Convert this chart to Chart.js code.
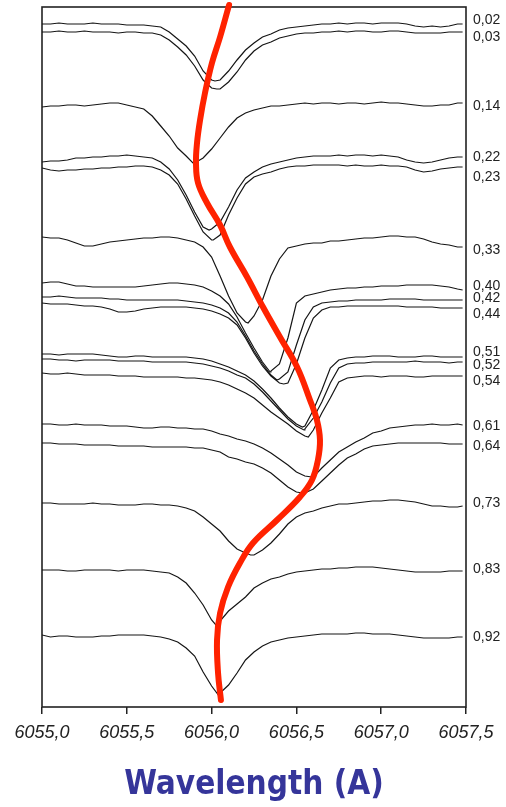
<!DOCTYPE html>
<html>
<head>
<meta charset="utf-8">
<script src="https://cdn.jsdelivr.net/npm/chart.js@4.4.1/dist/chart.umd.min.js"></script>
<style>
  body { margin: 0; background: #fff; }
  #wrap { width: 506px; height: 807px; position: relative; }
</style>
</head>
<body>
<div id="wrap"><canvas id="chart1"></canvas></div>
<script>
// sampled wavelengths (A), same for every spectrum
var wavelengths = [
  6055.00,6055.05,6055.10,6055.15,6055.20,6055.25,6055.30,6055.35,6055.40,6055.45,
  6055.50,6055.55,6055.60,6055.65,6055.70,6055.75,6055.80,6055.85,6055.90,6055.95,
  6056.00,6056.05,6056.10,6056.15,6056.20,6056.25,6056.30,6056.35,6056.40,6056.45,
  6056.50,6056.55,6056.60,6056.65,6056.70,6056.75,6056.80,6056.85,6056.90,6056.95,
  6057.00,6057.05,6057.10,6057.15,6057.20,6057.25,6057.30,6057.35,6057.40,6057.45,
  6057.48
];

// pulsation phase of each spectrum, top to bottom
var phases = ['0,02','0,03','0,14','0,22','0,23','0,33','0,40','0,42','0,44',
              '0,51','0,52','0,54','0,61','0,64','0,73','0,83','0,92'];

// flux, shifted so the spectra stack (arbitrary units)
var f002 = [683,683,684,683,683,683,684,683,683,683,682,682,682,681,680,675,668,661,651,636,627,627,636,647,657,664,670,673,677,679,680,681,682,683,683,684,683,684,684,683,684,684,684,683,681,680,681,680,681,683,683];
var f003 = [675,675,676,675,675,676,675,675,675,674,675,675,674,674,672,667,660,652,641,627,619,618,625,635,647,656,662,665,669,671,673,674,674,675,675,676,675,676,676,675,675,676,676,675,674,674,674,674,675,675,675];
var f014 = [600,601,601,602,602,601,602,603,604,604,602,600,598,591,581,571,559,551,544,549,558,569,580,589,594,597,599,601,601,602,603,604,603,604,604,603,604,604,603,604,605,604,604,603,602,601,601,602,602,604,604];
var f022 = [545,546,546,547,549,549,550,550,551,551,552,551,550,549,545,538,527,512,495,480,478,485,500,517,529,535,540,543,545,547,549,550,551,551,551,552,551,552,552,551,552,551,550,547,545,544,545,547,549,550,550];
var f023 = [539,537,536,537,537,538,538,539,539,540,540,541,541,540,537,532,523,508,491,475,467,472,492,509,523,530,533,535,538,540,541,541,542,542,542,542,541,542,541,541,542,541,541,540,537,535,536,538,539,540,540];
var f033 = [470,469,469,467,464,461,461,463,465,466,467,468,469,469,470,470,469,467,465,460,450,431,411,394,385,391,407,431,448,459,461,463,464,464,466,466,467,468,469,469,470,471,471,470,470,468,465,463,462,460,460];
var f040 = [424,425,425,423,421,421,420,420,420,420,420,420,421,422,423,424,424,423,422,420,416,411,403,390,374,359,345,336,343,369,404,411,413,415,417,418,419,419,420,420,421,421,421,422,422,422,422,421,420,418,417];
var f042 = [410,410,411,410,409,409,409,409,408,408,407,407,407,407,407,407,407,406,405,404,402,399,394,385,371,356,343,332,328,335,362,387,400,404,405,406,406,407,407,407,407,408,408,408,408,407,407,407,407,407,407];
var f044 = [404,403,403,403,402,401,401,400,398,395,395,396,398,399,400,400,400,400,399,398,396,393,389,382,369,354,341,331,324,324,343,369,389,397,400,400,401,401,401,401,401,401,401,400,400,400,400,399,399,399,399];
var f051 = [353,353,352,353,353,353,353,352,351,350,350,351,351,350,350,350,350,350,349,348,346,343,340,336,332,326,318,309,299,290,283,281,297,317,339,347,349,350,350,351,351,351,350,350,350,351,351,350,350,350,350];
var f052 = [348,348,347,347,346,347,347,347,347,346,346,346,346,345,345,345,345,345,344,343,341,339,336,332,329,323,315,306,297,288,281,278,289,305,324,339,343,344,344,345,345,345,345,345,346,345,345,345,344,345,345];
var f054 = [334,333,333,334,333,332,332,332,332,331,331,331,330,330,330,330,330,329,329,328,327,325,322,318,314,309,302,295,289,283,276,271,277,294,309,325,329,330,331,331,330,331,331,331,330,330,331,331,331,331,331];
var f061 = [283,283,282,282,283,282,282,282,281,281,281,280,279,279,280,280,279,279,278,278,276,273,271,268,266,263,259,254,248,242,235,231,230,239,247,255,260,265,269,274,276,279,280,281,282,282,283,282,282,283,282];
var f064 = [264,264,263,263,263,262,262,262,262,261,261,261,261,260,260,260,260,260,259,259,257,255,250,248,245,243,239,234,227,220,215,214,218,226,234,242,249,253,258,261,262,263,264,264,264,264,264,264,263,263,263];
var f073 = [204,204,203,203,203,203,204,203,203,202,202,202,203,203,202,202,201,199,196,190,183,176,166,158,154,152,157,164,173,183,190,194,196,199,201,203,203,204,205,206,206,207,207,206,205,203,201,201,200,200,201];
var f083 = [137,137,137,136,136,137,137,137,137,136,137,137,137,136,135,134,130,124,114,102,87,86,96,103,110,119,124,128,130,133,135,136,137,138,138,139,139,140,140,140,139,138,137,136,135,135,135,135,136,136,136];
var f092 = [72,70,71,71,70,70,70,71,71,72,72,72,72,71,70,68,65,59,51,35,21,14,22,34,47,55,61,65,67,69,70,71,72,73,73,73,73,74,74,73,73,73,72,71,70,69,69,69,69,70,70];

var spectra = [f002,f003,f014,f022,f023,f033,f040,f042,f044,f051,f052,f054,f061,f064,f073,f083,f092];

// line core of each spectrum: wavelength and flux
var lineCentre = [6056.02,6056.03,6055.89,6055.985,6056.01,6056.215,6056.345,6056.385,6056.425,
                  6056.535,6056.545,6056.57,6056.59,6056.535,6056.23,6056.025,6056.04];
var lineCore = [626,618,544,477,467,384,335,327,323,280,277,270,230,214,152,82,12];

// height of each phase label on the right axis
var phaseLabelAt = [687,670,601,550,530,457,421,409,393,355,342,326,281,261,204,138,70];

// hand drawn curve following the line cores
var curveWave = [6056.103,6056.050,6056.002,6055.961,6055.932,6055.914,6055.908,6055.920,6055.973,6056.050,
                 6056.108,6056.209,6056.303,6056.403,6056.504,6056.580,6056.621,6056.639,6056.627,6056.592,
                 6056.521,6056.386,6056.244,6056.167,6056.097,6056.050,6056.032,6056.038,6056.055];
var curveFlux = [702,670,644,614,587,564,544,524,504,482,
                 460,430,400,370,340,307,287,267,247,227,
                 210,187,164,144,120,94,67,34,7];

var datasets = [];

datasets.push({
  data: curveWave.map(function (w, i) { return {x: w, y: curveFlux[i]}; }),
  borderColor: '#ff2200',
  borderWidth: 6,
  tension: 0.4,
  borderCapStyle: 'round',
  borderJoinStyle: 'round',
  pointRadius: 0,
  clip: false,
  order: 0
});

spectra.forEach(function (flux, k) {
  var pts = wavelengths.map(function (w, i) { return {x: w, y: flux[i]}; });
  pts.push({x: lineCentre[k], y: lineCore[k]});
  pts.sort(function (a, b) { return a.x - b.x; });
  datasets.push({
    label: phases[k],
    data: pts,
    borderColor: '#151515',
    borderWidth: 1.2,
    tension: 0,
    pointRadius: 0,
    order: 1
  });
});

// box round the plot
var frame = {
  id: 'frame',
  beforeDatasetsDraw: function (chart) {
    var a = chart.chartArea, ctx = chart.ctx;
    ctx.save();
    ctx.strokeStyle = '#222';
    ctx.lineWidth = 1.6;
    ctx.strokeRect(a.left, a.top, a.right - a.left, a.bottom - a.top);
    ctx.restore();
  }
};

var ctx = document.getElementById('chart1').getContext('2d');
var myChart = new Chart(ctx, {
  type: 'line',
  data: { datasets: datasets },
  plugins: [frame],
  options: {
    responsive: true,
    maintainAspectRatio: false,
    animation: false,
    events: [],
    layout: { padding: { top: 7, left: 0, right: 0, bottom: 0 } },
    plugins: { legend: { display: false }, tooltip: { enabled: false } },
    scales: {
      x: {
        type: 'linear',
        position: 'bottom',
        min: 6055,
        max: 6057.5,
        border: { display: false },
        grid: { drawOnChartArea: false, drawTicks: true, tickLength: 7, color: '#222', lineWidth: 1.5 },
        ticks: {
          stepSize: 0.5,
          padding: 8,
          color: '#222',
          font: { family: "'Liberation Sans', Arial, sans-serif", size: 18, style: 'italic' },
          callback: function (v) { return v.toFixed(1).replace('.', ','); }
        },
        title: {
          display: true,
          text: 'Wavelength (A)',
          color: '#35359a',
          font: { family: "'DejaVu Sans Condensed', 'DejaVu Sans', sans-serif", size: 33, weight: 'bold' },
          padding: { top: 0, bottom: 2 }
        },
        afterFit: function (axis) {
          axis.height = 100;
          axis.paddingLeft = 0;
          axis.paddingRight = 0;
        }
      },
      y: {
        type: 'linear',
        position: 'left',
        min: 0,
        max: 700,
        border: { display: false },
        grid: { display: false },
        ticks: { display: false },
        afterFit: function (axis) {
          axis.width = 42;
          axis.paddingTop = 0;
          axis.paddingBottom = 0;
        }
      },
      y2: {
        type: 'linear',
        position: 'right',
        min: 0,
        max: 700,
        border: { display: false },
        grid: { display: true, drawOnChartArea: false, drawTicks: false, tickLength: 0 },
        ticks: {
          autoSkip: false,
          padding: 7,
          color: '#222',
          font: { family: "'Liberation Sans', Arial, sans-serif", size: 14 },
          callback: function (v, i) { return phases[i]; }
        },
        afterBuildTicks: function (axis) {
          axis.ticks = phaseLabelAt.map(function (v) { return {value: v}; });
        },
        afterFit: function (axis) {
          axis.width = 40;
          axis.paddingTop = 0;
          axis.paddingBottom = 0;
        }
      }
    }
  }
});
</script>
</body>
</html>
